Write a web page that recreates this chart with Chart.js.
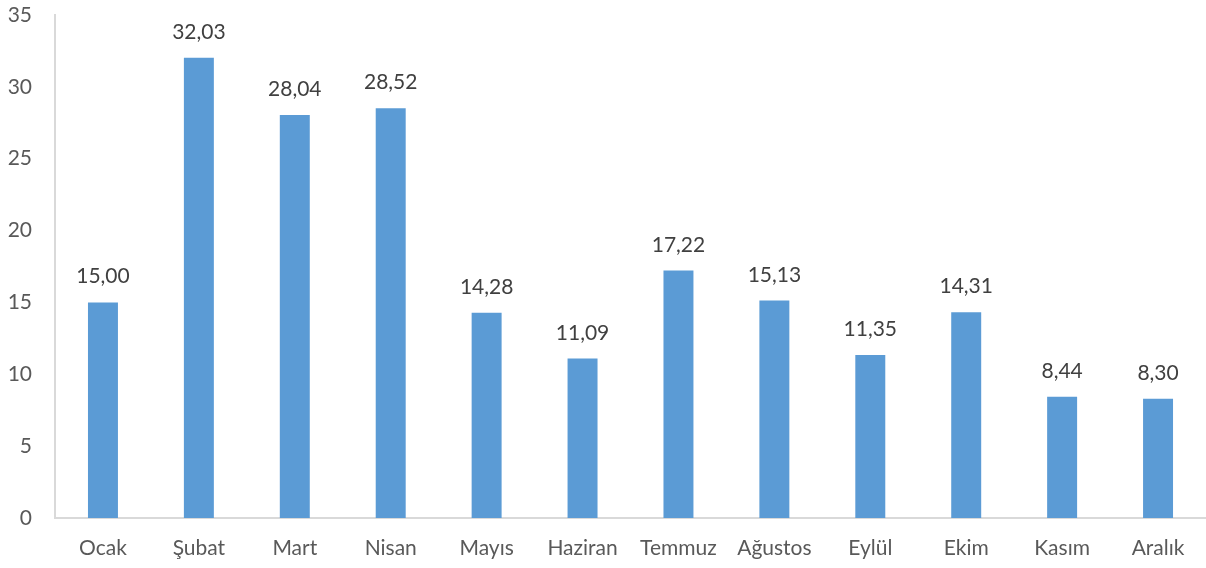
<!DOCTYPE html>
<html>
<head>
<meta charset="utf-8">
<script src="https://cdn.jsdelivr.net/npm/chart.js@4"></script>
<style>
	html, body { margin: 0; padding: 0; background: #fff; }
	#wrap { width: 1206px; height: 568px; }
</style>
</head>
<body>
<div id="wrap"><canvas id="monthChart"></canvas></div>
<script>
const months = ['Ocak', 'Şubat', 'Mart', 'Nisan', 'Mayıs', 'Haziran', 'Temmuz', 'Ağustos', 'Eylül', 'Ekim', 'Kasım', 'Aralık'];
const values = [15.00, 32.03, 28.04, 28.52, 14.28, 11.09, 17.22, 15.13, 11.35, 14.31, 8.44, 8.30];
const yTicks = [0, 5, 10, 15, 20, 25, 30, 35];

// draws the value above each bar, with a comma as decimal separator
const barLabels = {
	id: 'barLabels',
	afterDatasetsDraw(chart) {
		const ctx = chart.ctx;
		const meta = chart.getDatasetMeta(0);
		ctx.save();
		ctx.font = '21px Lato';
		ctx.fillStyle = '#404040';
		ctx.textAlign = 'center';
		ctx.textBaseline = 'alphabetic';
		meta.data.forEach((bar, i) => {
			ctx.fillText(values[i].toFixed(2).replace('.', ','), bar.x, bar.y - 19);
		});
		ctx.restore();
	}
};

new Chart(document.getElementById('monthChart'), {
	type: 'bar',
	data: {
		labels: months,
		datasets: [{
			data: values,
			backgroundColor: '#5B9BD5',
			categoryPercentage: 1,
			barPercentage: 0.3125
		}]
	},
	options: {
		responsive: true,
		maintainAspectRatio: false,
		animation: false,
		layout: { padding: { top: 15, right: 0, left: 0, bottom: 0 } },
		plugins: {
			legend: { display: false },
			tooltip: { enabled: false }
		},
		scales: {
			x: {
				grid: { display: false, drawTicks: false },
				border: { display: true, color: '#d9d9d9', width: 2 },
				ticks: { color: '#595959', font: { family: 'Lato', size: 21 }, padding: 18 },
				afterFit(scale) {
					scale.height = 50;
					scale.paddingLeft = 0;
					scale.paddingRight = 0;
				}
			},
			y: {
				min: 0,
				max: 35,
				afterBuildTicks(scale) { scale.ticks = yTicks.map(v => ({ value: v })); },
				grid: { display: false, drawTicks: false },
				border: { display: true, color: '#d9d9d9', width: 2 },
				ticks: { color: '#595959', font: { family: 'Lato', size: 21 }, padding: 23 },
				afterFit(scale) {
					scale.width = 55;
					scale.paddingTop = 0;
					scale.paddingBottom = 0;
				}
			}
		}
	},
	plugins: [barLabels]
});
</script>
</body>
</html>
